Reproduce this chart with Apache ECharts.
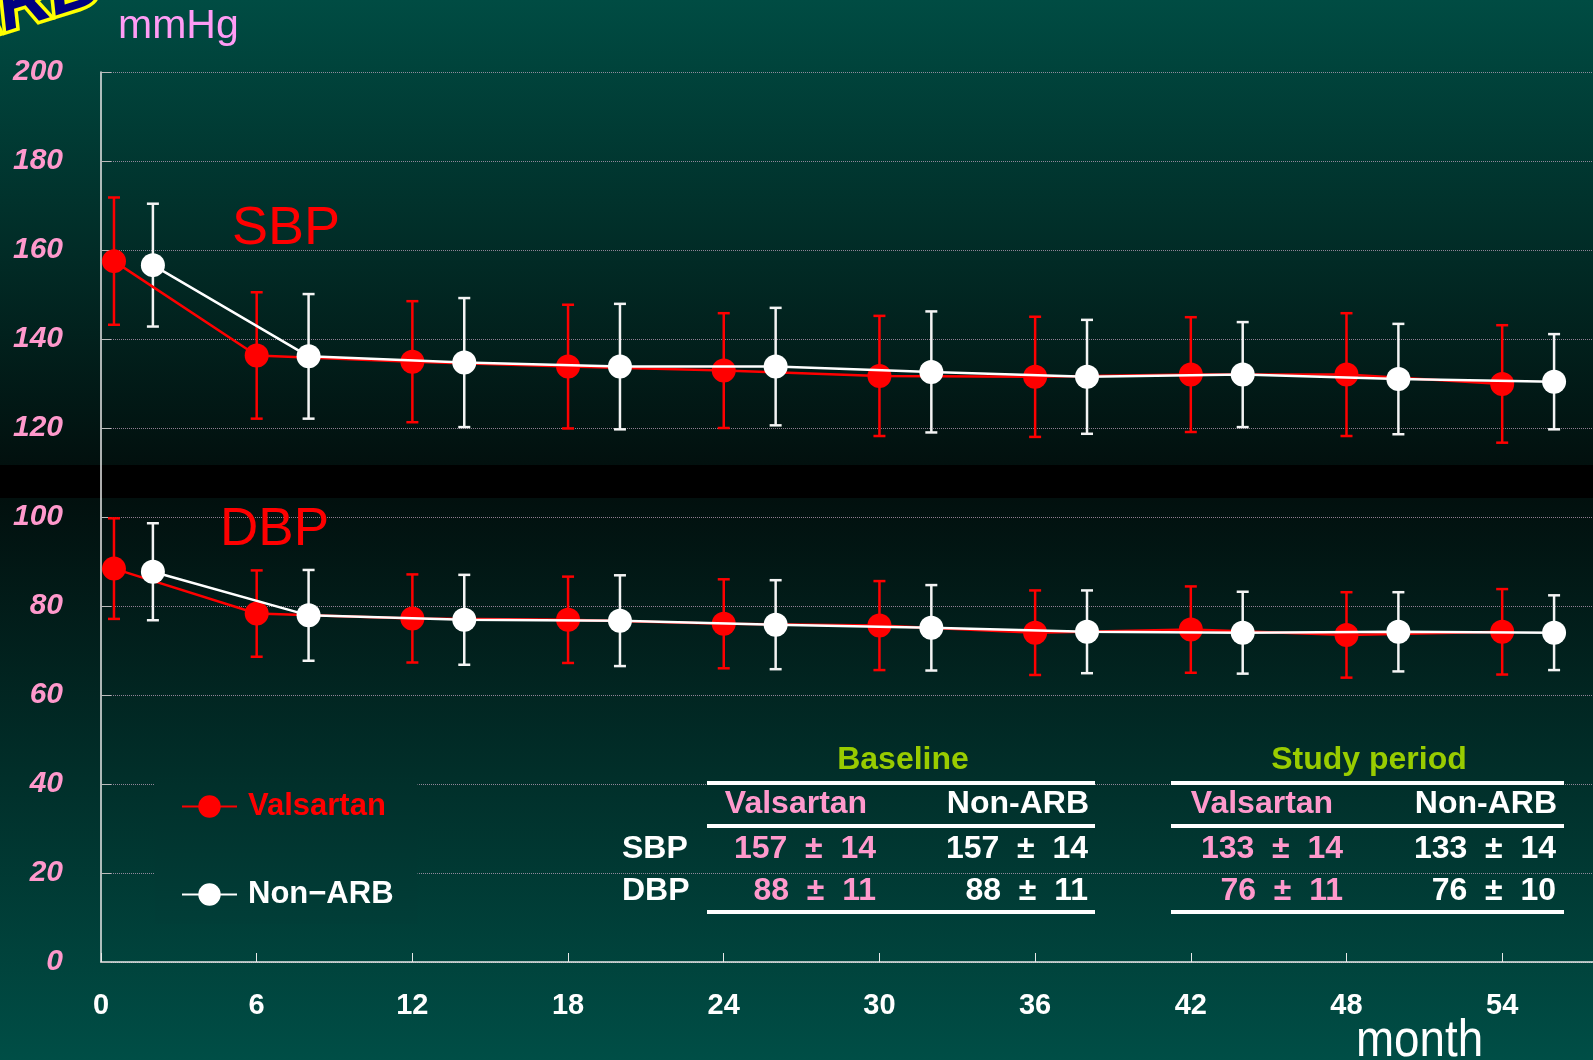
<!DOCTYPE html>
<html>
<head>
<meta charset="utf-8">
<script src="https://cdn.jsdelivr.net/npm/echarts@6/dist/echarts.min.js"></script>
<style>
html, body { margin: 0; padding: 0; background: #000; }
#main { width: 1593px; height: 1060px; }
</style>
</head>
<body>
<div id="main"></div>
<script>
// months of each visit (Valsartan drawn slightly left of Non-ARB)
var monthsVal = [0.5, 6, 12, 18, 24, 30, 36, 42, 48, 54];
var monthsNon = [2, 8, 14, 20, 26, 32, 38, 44, 50, 56];
var xTicks = [0, 6, 12, 18, 24, 30, 36, 42, 48, 54];

// SBP mean / SD
var sbpValMean = [157.5, 136.3, 134.9, 133.8, 132.9, 131.7, 131.5, 132.0, 132.0, 129.9];
var sbpValSd   = [14.3, 14.2, 13.6, 13.9, 12.9, 13.5, 13.5, 12.9, 13.8, 13.2];
var sbpNonMean = [156.6, 136.1, 134.7, 133.8, 133.8, 132.6, 131.5, 132.0, 131.0, 130.4];
var sbpNonSd   = [13.8, 14.0, 14.5, 14.1, 13.2, 13.6, 12.8, 11.8, 12.4, 10.7];

// DBP mean / SD
var dbpValMean = [88.4, 78.3, 77.2, 76.9, 76.0, 75.6, 74.0, 74.7, 73.5, 74.2];
var dbpValSd   = [11.3, 9.7, 9.9, 9.7, 10.0, 10.0, 9.5, 9.7, 9.6, 9.6];
var dbpNonMean = [87.7, 77.9, 76.9, 76.7, 75.8, 75.1, 74.2, 74.0, 74.2, 74.0];
var dbpNonSd   = [10.9, 10.2, 10.1, 10.2, 10.0, 9.6, 9.3, 9.2, 8.9, 8.4];

// summary table
var tableRows = ['SBP', 'DBP'];
var baselineVal = ['157  \u00b1  14', '88  \u00b1  11'];
var baselineNon = ['157  \u00b1  14', '88  \u00b1  11'];
var studyVal = ['133  \u00b1  14', '76  \u00b1  11'];
var studyNon = ['133  \u00b1  14', '76  \u00b1  10'];

var chart = echarts.init(document.getElementById('main'));

// background colours
var cTop = [0, 76, 67], cDark = [2, 16, 14], cBottom = [0, 78, 70];
function rgb(c) { return 'rgb(' + c.map(Math.round).join(',') + ')'; }
function mix(a, b, t) { return [a[0] + (b[0] - a[0]) * t, a[1] + (b[1] - a[1]) * t, a[2] + (b[2] - a[2]) * t]; }
var H = 1060, bandTop = 465, bandBot = 498;
function bgAt(y) { return y < bandTop ? mix(cTop, cDark, y / bandTop) : mix(cDark, cBottom, (y - bandBot) / (H - bandBot)); }

var bg = new echarts.graphic.LinearGradient(0, 0, 0, 1, [
    {offset: 0, color: rgb(cTop)},
    {offset: bandTop / H, color: rgb(cDark)},
    {offset: bandTop / H, color: '#000'},
    {offset: bandBot / H, color: '#000'},
    {offset: bandBot / H, color: rgb(cDark)},
    {offset: 1, color: rgb(cBottom)}
]);

function pts(months, mean) { return months.map(function (m, i) { return [m, mean[i]]; }); }
function bars(months, mean, sd) { return months.map(function (m, i) { return [m, mean[i] - sd[i], mean[i] + sd[i]]; }); }

function errorBar(color) {
    return function (params, api) {
        var x = api.value(0);
        var top = api.coord([x, api.value(2)]);
        var bot = api.coord([x, api.value(1)]);
        var st = {stroke: color, lineWidth: 2.5};
        return {
            type: 'group',
            children: [
                {type: 'line', shape: {x1: top[0], y1: top[1], x2: bot[0], y2: bot[1]}, style: st},
                {type: 'line', shape: {x1: top[0] - 6, y1: top[1], x2: top[0] + 6, y2: top[1]}, style: st},
                {type: 'line', shape: {x1: bot[0] - 6, y1: bot[1], x2: bot[0] + 6, y2: bot[1]}, style: st}
            ]
        };
    };
}

function lineSeries(name, data, color, z) {
    return {
        name: name, type: 'line', data: data, z: z,
        symbol: 'circle', symbolSize: 24,
        itemStyle: {color: color},
        lineStyle: {color: color, width: 2.5},
        animation: false
    };
}
function barSeries(name, data, color) {
    return {
        name: name, type: 'custom', data: data, z: 1,
        encode: {x: 0, y: [1, 2]},
        renderItem: errorBar(color),
        animation: false
    };
}

var RED = '#ff0000', WHITE = '#ffffff', PINK = '#ff99cc', GREEN = '#99cc00';
var SANS = '"Liberation Sans", Arial, sans-serif';
var tableFont = 'bold 32px ' + SANS;

function txt(text, x, y, color, align, font) {
    return {
        type: 'text', x: x, y: y, z: 100,
        style: {text: text, fill: color, font: font || tableFont, textAlign: align || 'left', textVerticalAlign: 'middle'}
    };
}
function hline(x1, x2, y) {
    return {type: 'line', z: 100, shape: {x1: x1, y1: y, x2: x2, y2: y}, style: {stroke: WHITE, lineWidth: 4}};
}

var graphics = [
    // logo fragment in the corner
    {type: 'text', x: -40, y: 62, rotation: 0.3, z: 100,
     style: {text: 'ARB', fill: '#000080', stroke: '#ffff00', lineWidth: 7,
             font: 'italic bold 72px ' + SANS, textVerticalAlign: 'bottom',
             shadowColor: '#7a1010', shadowOffsetX: 7, shadowOffsetY: 9, shadowBlur: 2}},
    txt('mmHg', 118, 27, '#ff9cf5', 'left', '41px ' + SANS),
    txt('SBP', 232, 229, RED, 'left', '54px ' + SANS),
    txt('DBP', 220, 530, RED, 'left', '53px ' + SANS),
    {type: 'text', x: 1356, y: 1042, z: 100, scaleX: 0.88,
     style: {text: 'month', fill: WHITE, font: '52px ' + SANS, textVerticalAlign: 'middle'}},

    // Baseline table
    txt('Baseline', 903, 760, GREEN, 'center'),
    hline(707, 1095, 783),
    txt('Valsartan', 796, 804, PINK, 'center'),
    txt('Non-ARB', 1089, 804, WHITE, 'right'),
    hline(707, 1095, 826),
    hline(707, 1095, 912),

    // Study period table
    txt('Study period', 1369, 760, GREEN, 'center'),
    hline(1171, 1564, 783),
    txt('Valsartan', 1262, 804, PINK, 'center'),
    txt('Non-ARB', 1557, 804, WHITE, 'right'),
    hline(1171, 1564, 826),
    hline(1171, 1564, 912)
];
var rowY = [849, 891];
tableRows.forEach(function (r, i) {
    graphics.push(txt(r, 622, rowY[i], WHITE, 'left'));
    graphics.push(txt(baselineVal[i], 876, rowY[i], PINK, 'right'));
    graphics.push(txt(baselineNon[i], 1088, rowY[i], WHITE, 'right'));
    graphics.push(txt(studyVal[i], 1343, rowY[i], PINK, 'right'));
    graphics.push(txt(studyNon[i], 1556, rowY[i], WHITE, 'right'));
});

option = {
    backgroundColor: bg,
    grid: {left: 101, right: 0, top: 72, bottom: 98, outerBoundsMode: 'none'},
    legend: {
        orient: 'vertical',
        left: 155, top: 777,
        padding: [14, 24, 14, 26],
        itemWidth: 55, itemHeight: 28, itemGap: 57,
        backgroundColor: new echarts.graphic.LinearGradient(0, 0, 0, 1, [
            {offset: 0, color: rgb(bgAt(777))},
            {offset: 1, color: rgb(bgAt(918))}
        ]),
        textStyle: {fontSize: 31, fontWeight: 'bold', fontFamily: SANS, padding: [0, 0, 0, 6]},
        formatter: function (name) { return name === 'Non-ARB' ? 'Non\u2212ARB' : name; },
        data: [
            {name: 'Valsartan', textStyle: {color: RED}},
            {name: 'Non-ARB', textStyle: {color: WHITE}}
        ]
    },
    xAxis: {
        type: 'value', min: 0, max: 57.5, interval: 6,
        axisLine: {lineStyle: {color: '#e8e8e8', width: 1.5}},
        axisTick: {inside: true, length: 9, lineStyle: {color: '#e8e8e8'}},
        splitLine: {show: false},
        axisLabel: {
            margin: 29, color: WHITE, fontSize: 29, fontWeight: 'bold', fontFamily: SANS,
            formatter: function (v) { return xTicks.indexOf(v) >= 0 ? String(v) : ''; }
        }
    },
    yAxis: {
        type: 'value', min: 0, max: 200, interval: 20,
        axisLine: {show: true, lineStyle: {color: '#e8e8e8', width: 1.5}},
        axisTick: {show: true, inside: true, length: 10, lineStyle: {color: '#bbbbbb'}},
        splitLine: {show: true, lineStyle: {color: 'rgba(205,170,200,0.7)', type: 'dotted', width: 1}},
        axisLabel: {
            margin: 38, color: PINK, fontSize: 30, fontWeight: 'bold', fontStyle: 'italic', fontFamily: SANS
        }
    },
    series: [
        lineSeries('Valsartan', pts(monthsVal, sbpValMean), RED, 3),
        lineSeries('Valsartan', pts(monthsVal, dbpValMean), RED, 3),
        lineSeries('Non-ARB', pts(monthsNon, sbpNonMean), WHITE, 4),
        lineSeries('Non-ARB', pts(monthsNon, dbpNonMean), WHITE, 4),
        barSeries('Valsartan', bars(monthsVal, sbpValMean, sbpValSd), RED),
        barSeries('Valsartan', bars(monthsVal, dbpValMean, dbpValSd), RED),
        barSeries('Non-ARB', bars(monthsNon, sbpNonMean, sbpNonSd), '#f4f4f4'),
        barSeries('Non-ARB', bars(monthsNon, dbpNonMean, dbpNonSd), '#f4f4f4')
    ],
    graphic: graphics
};

chart.setOption(option);
</script>
</body>
</html>
